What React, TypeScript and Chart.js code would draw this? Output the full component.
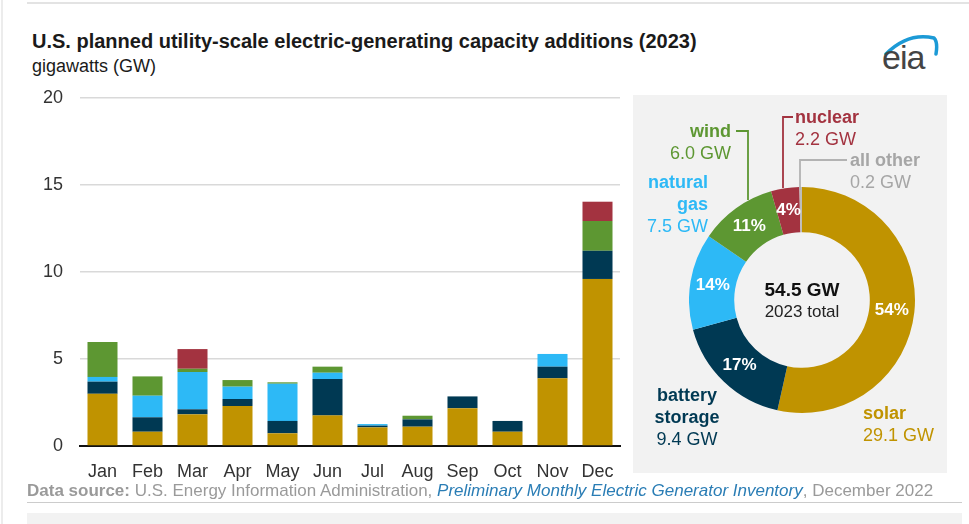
import React, { useEffect, useRef } from "react";
import { Chart, registerables } from "chart.js";
Chart.register(...registerables);

const months = ["Jan", "Feb", "Mar", "Apr", "May", "Jun", "Jul", "Aug", "Sep", "Oct", "Nov", "Dec"];
const solar = [3.0, 0.82, 1.82, 2.3, 0.73, 1.76, 1.07, 1.11, 2.17, 0.82, 3.89, 9.6];
const battery = [0.7, 0.83, 0.29, 0.4, 0.71, 2.09, 0.1, 0.42, 0.68, 0.62, 0.67, 1.62];
const naturalGas = [0.27, 1.24, 2.14, 0.71, 2.14, 0.36, 0.09, 0, 0, 0, 0.73, 0];
const wind = [2.0, 1.11, 0.19, 0.38, 0.08, 0.35, 0, 0.21, 0, 0, 0, 1.71];
const nuclear = [0, 0, 1.13, 0, 0, 0, 0, 0, 0, 0, 0, 1.11];
const yMin = 0;
const yMax = 20;
const yStep = 5;

const shareLabels = ["solar", "battery storage", "natural gas", "wind", "nuclear", "all other"];
const shareValues = [29.1, 9.4, 7.5, 6.0, 2.2, 0.2];
const sharePercents = ["54%", "17%", "14%", "11%", "4%", ""];

const COLORS = {
  solar: "#C09300",
  battery: "#003953",
  gas: "#2DB9F6",
  wind: "#5D9732",
  nuclear: "#A33340",
  other: "#BDBDBD",
};

const FONT = '"Liberation Sans", Arial, sans-serif';

const pctPlugin = {
  id: "pctLabels",
  afterDatasetsDraw(chart: any) {
    const ctx = chart.ctx;
    const meta = chart.getDatasetMeta(0);
    ctx.save();
    ctx.fillStyle = "#ffffff";
    ctx.font = `bold 17px ${FONT}`;
    ctx.textAlign = "center";
    ctx.textBaseline = "middle";
    meta.data.forEach((arc: any, i: number) => {
      const txt = sharePercents[i];
      if (!txt) return;
      const p = arc.getProps(["x", "y", "startAngle", "endAngle", "innerRadius", "outerRadius"], true);
      const a = (p.startAngle + p.endAngle) / 2;
      const r = (p.innerRadius + p.outerRadius) / 2;
      ctx.fillText(txt, p.x + Math.cos(a) * r, p.y + Math.sin(a) * r);
    });
    ctx.restore();
  },
};

function BarChart() {
  const ref = useRef<HTMLCanvasElement>(null);
  useEffect(() => {
    const chart = new Chart(ref.current!, {
      type: "bar",
      data: {
        labels: months,
        datasets: [
          { label: "solar", data: solar, backgroundColor: COLORS.solar },
          { label: "battery storage", data: battery, backgroundColor: COLORS.battery },
          { label: "natural gas", data: naturalGas, backgroundColor: COLORS.gas },
          { label: "wind", data: wind, backgroundColor: COLORS.wind },
          { label: "nuclear", data: nuclear, backgroundColor: COLORS.nuclear },
        ],
      },
      options: {
        responsive: false,
        animation: false,
        layout: { padding: { top: 98, right: 10, left: 0, bottom: 0 } },
        datasets: { bar: { categoryPercentage: 1, barPercentage: 0.667, borderWidth: 0 } },
        plugins: { legend: { display: false }, tooltip: { enabled: false } },
        scales: {
          x: {
            stacked: true,
            grid: { display: false },
            border: { display: true, color: "#111", width: 2 },
            ticks: { color: "#333", font: { family: FONT, size: 18 }, padding: 7, maxRotation: 0 },
            afterFit: (s: any) => { s.height = 44; },
          },
          y: {
            stacked: true,
            min: yMin,
            max: yMax,
            ticks: { stepSize: yStep, color: "#333", font: { family: FONT, size: 18 }, padding: 17 },
            grid: { color: "#d9d9d9", lineWidth: 1.5, drawTicks: false },
            border: { display: false },
            afterFit: (s: any) => { s.width = 80; },
          },
        },
      },
    });
    return () => chart.destroy();
  }, []);
  return (
    <canvas ref={ref} width={630} height={490}
      style={{ position: "absolute", left: 0, top: 0, width: 630, height: 490 }} />
  );
}

function Donut() {
  const ref = useRef<HTMLCanvasElement>(null);
  useEffect(() => {
    const chart = new Chart(ref.current!, {
      type: "doughnut",
      data: {
        labels: shareLabels,
        datasets: [{
          data: shareValues,
          backgroundColor: [COLORS.solar, COLORS.battery, COLORS.gas, COLORS.wind, COLORS.nuclear, COLORS.other],
          borderWidth: 0,
        }],
      },
      options: {
        responsive: false,
        animation: false,
        cutout: "60%",
        layout: { padding: 0 },
        plugins: { legend: { display: false }, tooltip: { enabled: false } },
      },
      plugins: [pctPlugin],
    });
    return () => chart.destroy();
  }, []);
  return (
    <canvas ref={ref} width={226} height={230}
      style={{ position: "absolute", left: 689, top: 185, width: 226, height: 230 }} />
  );
}

const abs = (x: number, y: number, extra: any = {}) => ({
  position: "absolute" as const, left: x, top: y, whiteSpace: "nowrap" as const, ...extra,
});

function Label({ x, y, lines, color, align = "left", boldLines = 1 }: any) {
  const style: any = {
    position: "absolute",
    top: y,
    fontFamily: FONT,
    fontSize: 18,
    lineHeight: "22px",
    color,
    whiteSpace: "nowrap",
    textAlign: align,
  };
  if (align === "right") style.right = 969 - x;
  else if (align === "center") { style.left = x - 60; style.width = 120; }
  else style.left = x;
  return (
    <div style={style}>
      {lines.map((l: string, i: number) => (
        <div key={i} style={{ fontWeight: i < boldLines ? "bold" : "normal" }}>{l}</div>
      ))}
    </div>
  );
}

export default function App() {
  return (
    <div style={{ position: "absolute", left: 0, top: 0, width: 969, height: 524, background: "#fff", overflow: "hidden", fontFamily: FONT }}>
      <div style={{ position: "absolute", left: 1, top: 0, width: 2, height: 524, background: "#ececec" }} />
      <div style={{ position: "absolute", left: 27, top: 2, width: 942, height: 2, background: "#e3e3e3" }} />
      <div style={abs(32, 30, { fontSize: 20, fontWeight: "bold", color: "#1a1a1a" })}>
        U.S. planned utility-scale electric-generating capacity additions (2023)
      </div>
      <div style={abs(32, 56, { fontSize: 18, color: "#1a1a1a" })}>gigawatts (GW)</div>

      <svg style={{ position: "absolute", left: 880, top: 28 }} width={62} height={28}>
        <path d="M 6 26 Q 28 4 54 10 Q 58 14 56 26" stroke="#1c9ad6" strokeWidth={3.5} fill="none" strokeLinecap="round" />
      </svg>
      <div style={abs(882, 38, { fontSize: 34, color: "#444", letterSpacing: -1 })}>eia</div>

      <div style={{ position: "absolute", left: 633, top: 95, width: 314, height: 378, background: "#f2f2f2" }} />
      <BarChart />
      <Donut />

      <svg style={{ position: "absolute", left: 0, top: 0 }} width={969} height={524}>
        <polyline points="736,131 748,131 748,200" stroke={COLORS.wind} strokeWidth={1.8} fill="none" />
        <polyline points="793,117 783,117 783,188" stroke={COLORS.nuclear} strokeWidth={1.8} fill="none" />
        <polyline points="847,160 800,160 800,190" stroke="#b3b3b3" strokeWidth={1.8} fill="none" />
      </svg>

      <div style={abs(742, 279, { width: 120, textAlign: "center", fontSize: 19, fontWeight: "bold", color: "#111" })}>54.5 GW</div>
      <div style={abs(742, 302, { width: 120, textAlign: "center", fontSize: 17, color: "#222" })}>2023 total</div>

      <Label x={731} y={120} lines={["wind", "6.0 GW"]} color={COLORS.wind} align="right" />
      <Label x={795} y={106} lines={["nuclear", "2.2 GW"]} color={COLORS.nuclear} />
      <Label x={850} y={149} lines={["all other", "0.2 GW"]} color="#a6a6a6" />
      <Label x={708} y={171} lines={["natural", "gas", "7.5 GW"]} color={COLORS.gas} align="right" boldLines={2} />
      <Label x={687} y={384} lines={["battery", "storage", "9.4 GW"]} color={COLORS.battery} align="center" boldLines={2} />
      <Label x={863} y={402} lines={["solar", "29.1 GW"]} color={COLORS.solar} />

      <div style={abs(27, 481, { fontSize: 17, color: "#9a9a9a" })}>
        <b>Data source:</b> U.S. Energy Information Administration,{" "}
        <i style={{ color: "#2a7db5" }}>Preliminary Monthly Electric Generator Inventory</i>, December 2022
      </div>
      <div style={{ position: "absolute", left: 27, top: 502, width: 935, height: 1, background: "#cccccc" }} />
      <div style={{ position: "absolute", left: 27, top: 513, width: 935, height: 11, background: "#f2f2f2" }} />
    </div>
  );
}
